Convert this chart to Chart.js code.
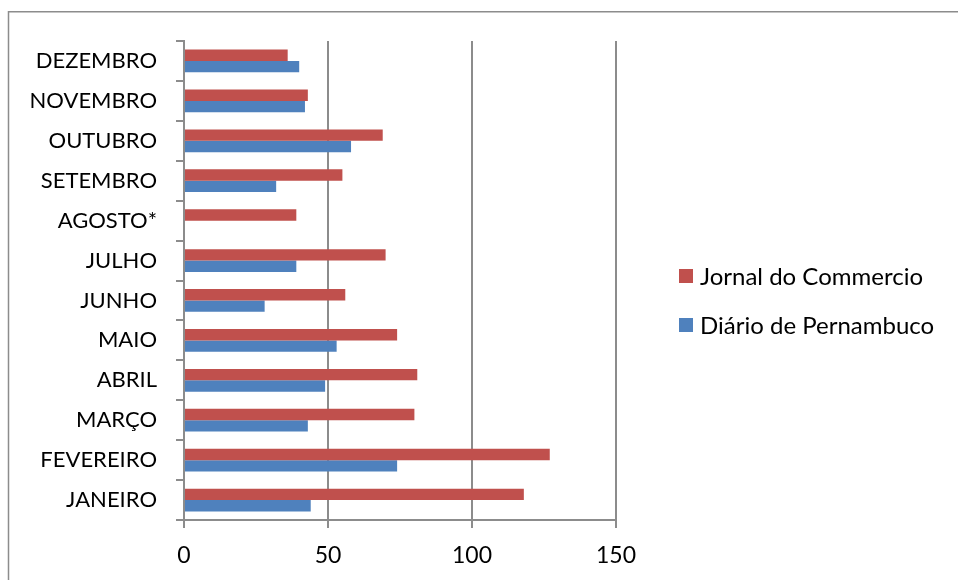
<!DOCTYPE html>
<html lang="pt">
<head>
<meta charset="utf-8">
<title>Jornal do Commercio × Diário de Pernambuco</title>
<script src="https://cdn.jsdelivr.net/npm/chart.js@4/dist/chart.umd.min.js"></script>
<style>
  html, body { margin: 0; padding: 0; background: #ffffff; }
  #wrap { position: relative; width: 958px; height: 580px; }
  canvas { display: block; }
</style>
</head>
<body>
<div id="wrap"><canvas id="grafico" width="958" height="580"></canvas></div>
<script>
// Meses em ordem do calendário
const meses = ['JANEIRO', 'FEVEREIRO', 'MARÇO', 'ABRIL', 'MAIO', 'JUNHO',
               'JULHO', 'AGOSTO*', 'SETEMBRO', 'OUTUBRO', 'NOVEMBRO', 'DEZEMBRO'];

// Quantidade por mês em cada jornal
const jornalDoCommercio = [118, 127, 80, 81, 74, 56, 70, 39, 55, 69, 43, 36];
const diarioDePernambuco = [44, 74, 43, 49, 53, 28, 39, null, 32, 58, 42, 40];

// Marcas do eixo horizontal
const marcasX = [0, 50, 100, 150];

const nomesSeries = ['Jornal do Commercio', 'Diário de Pernambuco'];

const FONTE = 'Lato, "Open Sans", "DejaVu Sans", sans-serif';
const TAM = 22;
const TAM_LEGENDA = 24;
const CINZA = '#8c8c8c';
const VERMELHO = '#C0504D';
const AZUL = '#4F81BD';

// Dezembro no alto, janeiro embaixo
const rotulos = meses.slice().reverse();
const serieJC = jornalDoCommercio.slice().reverse();
const serieDP = diarioDePernambuco.slice().reverse();

// Moldura externa do gráfico
const moldura = {
  id: 'moldura',
  beforeDraw(chart) {
    const ctx = chart.ctx;
    ctx.save();
    ctx.strokeStyle = CINZA;
    ctx.lineWidth = 1.5;
    ctx.beginPath();
    ctx.moveTo(8.5, chart.height + 5);
    ctx.lineTo(8.5, 11.75);
    ctx.lineTo(chart.width + 5, 11.75);
    ctx.stroke();
    ctx.restore();
  }
};

// Legenda à direita da área de plotagem
const legenda = {
  id: 'legenda',
  afterDraw(chart) {
    const ctx = chart.ctx;
    const area = chart.chartArea;
    const x0 = area.right + 63;
    const centro = (area.top + area.bottom) / 2 + 20;
    const passo = 49;
    const lado = 14;
    const ds = chart.data.datasets;
    ctx.save();
    ctx.font = TAM_LEGENDA + 'px ' + FONTE;
    ctx.textBaseline = 'middle';
    ctx.textAlign = 'left';
    ds.forEach((d, i) => {
      const y = centro + (i - (ds.length - 1) / 2) * passo;
      ctx.fillStyle = d.backgroundColor;
      ctx.fillRect(x0, y - lado / 2, lado, lado);
      ctx.fillStyle = '#000000';
      ctx.fillText(d.label, x0 + lado + 7, y + 1);
    });
    ctx.restore();
  }
};

new Chart(document.getElementById('grafico'), {
  type: 'bar',
  data: {
    labels: rotulos,
    datasets: [
      { label: nomesSeries[0], data: serieJC, backgroundColor: VERMELHO,
        categoryPercentage: 2 / 3.5, barPercentage: 1 },
      { label: nomesSeries[1], data: serieDP, backgroundColor: AZUL,
        categoryPercentage: 2 / 3.5, barPercentage: 1 }
    ]
  },
  options: {
    indexAxis: 'y',
    responsive: false,
    animation: false,
    devicePixelRatio: 1,
    layout: { padding: { top: 41, right: 342, bottom: 0, left: 0 } },
    plugins: {
      legend: { display: false },
      tooltip: { enabled: false }
    },
    scales: {
      x: {
        type: 'linear',
        min: marcasX[0],
        max: marcasX[marcasX.length - 1],
        afterBuildTicks(scale) { scale.ticks = marcasX.map(v => ({ value: v })); },
        afterFit(scale) { scale.height = 60; },
        grid: { color: CINZA, lineWidth: 2, drawTicks: true, tickLength: 8 },
        border: { display: true, color: CINZA, width: 2 },
        ticks: { color: '#000000', font: { family: FONTE, size: 23 }, padding: 14 }
      },
      y: {
        type: 'category',
        offset: true,
        afterFit(scale) { scale.width = 184; },
        grid: { drawOnChartArea: false, drawTicks: true, tickLength: 8, offset: true,
                color: CINZA, lineWidth: 2 },
        border: { display: true, color: CINZA, width: 2 },
        ticks: { color: '#000000', font: { family: FONTE, size: TAM }, padding: 19 }
      }
    }
  },
  plugins: [moldura, legenda]
});
</script>
</body>
</html>
